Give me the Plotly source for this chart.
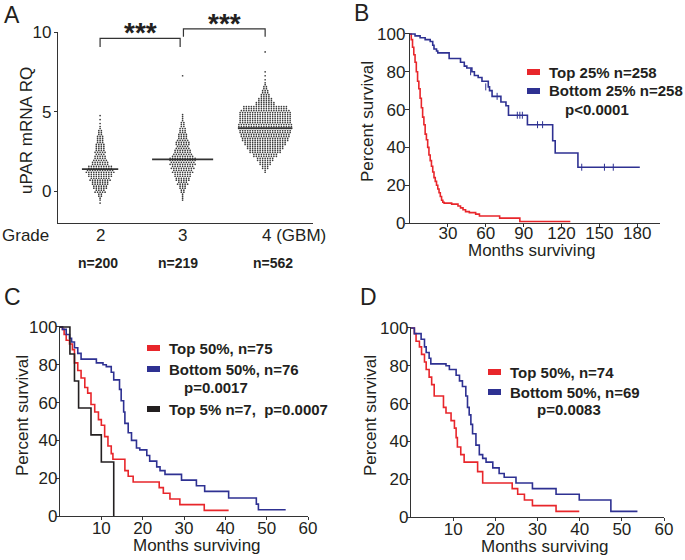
import plotly.graph_objects as go

W, H = 685, 560
FONT = 'Arial, "Liberation Sans", sans-serif'
INK = '#231f20'
RED = '#e8262b'
BLUE = '#2e3192'
BLACK = '#231f20'

# ---------------- Panel A: uPAR mRNA RQ by grade (binned values, 0.25 bins) ----------------
grade_labels = ['2', '3', '4 (GBM)']
grade_n = ['n=200', 'n=219', 'n=562']
grade_means = [1.38, 2.0, 3.96]

g2_values = [-0.75, -0.5, -0.25, 0, 0.25, 0.5, 0.75, 1.0, 1.25, 1.5, 1.75, 2.0, 2.25, 2.5,
             2.75, 3.0, 3.25, 3.5, 3.75, 4.0, 4.25, 4.5, 4.75]
g2_counts = [1, 2, 4, 9, 12, 14, 17, 20, 23, 20, 14, 11, 9, 9, 8, 7, 6, 5, 4, 2, 1, 1, 1]

g3_values = [-0.5, -0.25, 0, 0.25, 0.5, 0.75, 1.0, 1.25, 1.5, 1.75, 2.0, 2.25, 2.5, 2.75,
             3.0, 3.25, 3.5, 3.75, 4.0, 4.25, 4.5, 4.75, 7.25]
g3_counts = [2, 2, 4, 6, 9, 12, 14, 17, 19, 21, 22, 17, 14, 11, 12, 9, 8, 6, 5, 4, 2, 2, 1]

g4_values = [1.25, 1.5, 1.75, 2.0, 2.25, 2.5, 2.75, 3.0, 3.25, 3.5, 3.75, 4.0, 4.25, 4.5,
             4.75, 5.0, 5.25, 5.5, 5.75, 6.0, 6.25, 6.5, 6.75, 7.0, 7.25, 7.5, 8.75]
g4_counts = [2, 6, 10, 14, 20, 26, 30, 34, 38, 40, 42, 44, 43, 42, 42, 41, 36, 16, 12, 8, 6,
             4, 2, 1, 1, 1, 1]

# ---------------- Panel B: top vs bottom 25% ----------------
b_top_months = [0, 1, 2, 3, 4, 5, 6, 7, 8, 9, 10, 11, 12, 13, 14, 15, 16, 17, 18, 19, 20, 21,
                22, 23, 24, 25, 26, 27, 33, 38, 40, 42, 44, 47, 52, 55, 71, 87, 127]
b_top_surv = [100, 97, 93, 89, 85, 80, 75, 71, 66, 61, 56, 52, 47, 44, 40, 36, 33, 30, 27, 24,
              22, 20, 18, 16, 14, 12, 11, 10.5, 10, 9, 8, 7, 6, 5.5, 4.7, 3.7, 2.6, 0.8, 0.8]
b_bot_months = [0, 4, 8, 12, 16, 18, 19, 21, 22, 31, 40, 43, 45, 49, 51, 54, 57, 62, 63, 65,
                72, 76, 78, 93, 113, 115, 133, 182]
b_bot_surv = [100, 99, 98, 97, 96, 94, 92, 91, 90, 87, 85, 83, 82, 80, 78, 77, 75, 72, 70, 67,
              64, 62, 57, 52, 43.5, 37, 29.5, 29.5]
b_bot_cens_months = [48, 60, 69, 85, 87, 89, 101, 105, 136, 154, 161]
b_bot_cens_surv = [80, 72, 67, 57, 57, 57, 52, 52, 29.5, 29.5, 29.5]

# ---------------- Panel C ----------------
c_top_months = [0, 0.6, 1, 1.5, 2.3, 3, 3.5, 4.3, 5.1, 6, 6.7, 7.5, 8.4, 9.3, 10, 10.8, 11.6,
                12.4, 12.8, 15.7, 16.5, 17.7, 24, 25, 26.6, 29, 34.9, 40.8]
c_top_surv = [100, 98.7, 96, 93, 91, 88, 81, 77, 73, 68, 65, 59, 55, 51, 48, 42, 37, 33, 30,
              24, 21, 18, 15, 12, 9, 6, 3, 3]
c_bot_months = [0, 0.6, 1.5, 2.3, 2.8, 3.5, 4.3, 5.1, 8.8, 10.4, 11.2, 12.4, 13, 14.4, 14.8,
                15.4, 15.7, 16.5, 17.3, 18.5, 19.3, 21, 21.7, 23.4, 24.2, 25.4, 29.4, 33, 35,
                40.8, 47.5, 48, 54.6]
c_bot_surv = [100, 98.7, 96, 94, 92, 89, 86, 83, 81, 80, 79, 76, 72, 67, 61, 55, 49, 44, 40,
              36, 35, 32, 29, 26, 24, 22, 19, 16, 13, 9.5, 6.3, 3.3, 3.3]
c_top5_months = [0, 2.4, 3.5, 4.5, 7.5, 10, 13]
c_top5_surv = [100, 85.7, 71.4, 57.1, 42.9, 28.6, 0]

# ---------------- Panel D ----------------
d_top_months = [0, 0.8, 1.2, 2, 2.5, 3.2, 3.6, 4.3, 4.9, 5.5, 7.7, 8.3, 9.5, 10.3, 10.7, 11,
                11.8, 12.6, 15.8, 17, 24, 25.3, 26.9, 28.8, 34.4, 39.9]
d_top_surv = [100, 97, 93, 90, 86, 82, 78, 74, 70, 64, 58, 55, 51, 47, 42, 37, 33, 29, 24, 18,
              15, 12, 9, 6, 3, 3]
d_bot_months = [0, 0.8, 2.4, 3.2, 3.6, 4.3, 4.7, 8.3, 9.1, 10.7, 11.5, 12.2, 13, 13.4, 13.8,
                14.2, 14.6, 15.4, 16.2, 17, 17.8, 19.4, 20.9, 22.1, 24.9, 28.8, 34.4, 39.9,
                47.4, 53.7]
d_bot_surv = [100, 97, 94, 90, 87, 84, 81, 80, 78, 75, 72, 69, 64, 58, 54, 49, 44, 38, 33, 31,
              29, 26, 23, 21, 18, 15, 12, 9, 3, 3]


def px(x):
    return x / W


def py(y):
    return 1 - y / H


# panel plot boxes in screen pixels: left, top, right, bottom
BOX = {
    'A': (58, 32, 313, 223),
    'B': (410, 33, 660, 223),
    'C': (60, 326, 308, 516),
    'D': (411, 327, 664, 517),
}
A_XR = [0.49, 3.58]
A_YR = [-2, 10]


def a_paper(xv, yv):
    l, t, r, b = BOX['A']
    x = l + (xv - A_XR[0]) / (A_XR[1] - A_XR[0]) * (r - l)
    y = b - (yv - A_YR[0]) / (A_YR[1] - A_YR[0]) * (b - t)
    return px(x), py(y)


def swarm(center, values, counts, dx=0.0303, sub=0.0625):
    xs, ys = [], []
    for v, c in zip(values, counts):
        if c == 1:
            xs.append(center)
            ys.append(v)
            continue
        for yv, k in ((v - sub, (c + 1) // 2), (v + sub, c // 2)):
            for i in range(k):
                xs.append(center + (i - (k - 1) / 2) * dx)
                ys.append(yv)
    return xs, ys


fig = go.Figure()

groups = [(g2_values, g2_counts), (g3_values, g3_counts), (g4_values, g4_counts)]
mean_half = [0.22, 0.37, 0.33]
for i, (vals, cnts) in enumerate(groups):
    xs, ys = swarm(i + 1, vals, cnts)
    fig.add_trace(go.Scatter(x=xs, y=ys, mode='markers', xaxis='x', yaxis='y',
                             marker=dict(size=1.7, color='#3a3a3a', line=dict(width=0))))
for i, m in enumerate(grade_means):
    fig.add_trace(go.Scatter(x=[i + 1 - mean_half[i], i + 1 + mean_half[i]], y=[m, m],
                             mode='lines', xaxis='x', yaxis='y',
                             line=dict(color='#333333', width=1.8)))


def km(months, surv, color, xa, ya):
    fig.add_trace(go.Scatter(x=months, y=surv, mode='lines', xaxis=xa, yaxis=ya,
                             line=dict(color=color, width=1.6, shape='hv')))


km(b_top_months, b_top_surv, RED, 'x2', 'y2')
km(b_bot_months, b_bot_surv, BLUE, 'x2', 'y2')
fig.add_trace(go.Scatter(x=b_bot_cens_months, y=b_bot_cens_surv, mode='markers', xaxis='x2', yaxis='y2',
                         marker=dict(symbol='line-ns-open', size=5, color=BLUE,
                                     line=dict(color=BLUE, width=1))))
km(c_top_months, c_top_surv, RED, 'x3', 'y3')
km(c_bot_months, c_bot_surv, BLUE, 'x3', 'y3')
km(c_top5_months, c_top5_surv, BLACK, 'x3', 'y3')
km(d_top_months, d_top_surv, RED, 'x4', 'y4')
km(d_bot_months, d_bot_surv, BLUE, 'x4', 'y4')

tickfont = dict(family=FONT, size=17, color=INK)
axis_common = dict(showline=True, linecolor='#333333', linewidth=1.4, showgrid=False,
                   zeroline=False, tickfont=tickfont, ticks='outside', ticklen=3,
                   tickcolor='#333333', tickwidth=1.2, automargin=False)


def dom(k):
    l, t, r, b = BOX[k]
    return [px(l), px(r)], [py(b), py(t)]


layout_axes = {}
xa_d, ya_d = dom('A')
layout_axes['xaxis'] = dict(axis_common, domain=xa_d, range=A_XR, ticks='', showticklabels=False,
                            anchor='y')
layout_axes['yaxis'] = dict(axis_common, domain=ya_d, range=A_YR, tickvals=[0, 5, 10], anchor='x',
                            ticklabelstandoff=-1)

surv_ticks = [0, 20, 40, 60, 80, 100]
xa_d, ya_d = dom('B')
layout_axes['xaxis2'] = dict(axis_common, domain=xa_d, range=[0, 198], tickvals=[30, 60, 90, 120, 150, 180],
                             anchor='y2', ticklabelstandoff=-9)
layout_axes['yaxis2'] = dict(axis_common, domain=ya_d, range=[0, 100.5], tickvals=surv_ticks, anchor='x2',
                             ticklen=4, ticklabelstandoff=-4)
xa_d, ya_d = dom('C')
layout_axes['xaxis3'] = dict(axis_common, domain=xa_d, range=[0, 60], tickvals=[10, 20, 30, 40, 50, 60],
                             anchor='y3', ticklabelstandoff=-7)
layout_axes['yaxis3'] = dict(axis_common, domain=ya_d, range=[0, 100.5], tickvals=surv_ticks, anchor='x3',
                             ticklabelstandoff=-5)
xa_d, ya_d = dom('D')
layout_axes['xaxis4'] = dict(axis_common, domain=xa_d, range=[0, 60], tickvals=[10, 20, 30, 40, 50, 60],
                             anchor='y4', ticklabelstandoff=-7)
layout_axes['yaxis4'] = dict(axis_common, domain=ya_d, range=[0, 100.5], tickvals=surv_ticks, anchor='x4',
                             ticklabelstandoff=-5)

ann = []


def text(x, y, s, size=17, bold=False, xanchor='center', yanchor='middle', angle=0, xref='paper', color=INK):
    ann.append(dict(x=x, y=y, xref=xref, yref='paper', text='<b>%s</b>' % s if bold else s,
                    showarrow=False, xanchor=xanchor, yanchor=yanchor, textangle=angle,
                    font=dict(family=FONT, size=size, color=color)))


# panel letters
text(px(2), py(15), 'A', size=23, xanchor='left')
text(px(352), py(13), 'B', size=23, xanchor='left')
text(px(2), py(297), 'C', size=23, xanchor='left')
text(px(358), py(297), 'D', size=23, xanchor='left')

# panel A labels
text(px(26), py(131), 'uPAR mRNA RQ', angle=-90)
text(px(51), py(235), 'Grade', xanchor='right')
for i, lab in enumerate(grade_labels):
    if i < 2:
        text(i + 1, py(235), lab, xref='x')
    else:
        ann.append(dict(x=i + 1, y=py(235), xref='x', yref='paper', text=lab.replace(' ', '\u00a0'),
                        showarrow=False, xanchor='left', xshift=-5, yanchor='middle',
                        font=dict(family=FONT, size=17, color=INK)))
n_x = [0.97, 1.94, 3.1]
for i, lab in enumerate(grade_n):
    text(n_x[i], py(263), lab, size=14, bold=True, xref='x')

shapes = []
# significance brackets
for (x0, x1, top, foot) in [(1, 1.97, 9.6, 9.05), (2.01, 3, 10.2, 9.7)]:
    p0 = a_paper(x0, foot)
    p1 = a_paper(x0, top)
    p2 = a_paper(x1, top)
    p3 = a_paper(x1, foot)
    shapes.append(dict(type='path', xref='paper', yref='paper',
                       path='M %f %f L %f %f L %f %f L %f %f' % (p0 + p1 + p2 + p3),
                       line=dict(color='#333333', width=1.2)))
    sx, sy = a_paper((x0 + x1) / 2, top)
    ann.append(dict(x=sx, y=sy, xref='paper', yref='paper', text='<b>***</b>', showarrow=False,
                    xanchor='center', yanchor='bottom', yshift=-12,
                    font=dict(family=FONT, size=28, color=INK)))

# KM axis titles
for k, (tx, ty) in {'B': (367, 122), 'C': (22, 416), 'D': (370, 416)}.items():
    text(px(tx), py(ty), 'Percent survival', angle=-90)
for (tx, ty) in [(532, 251), (197, 545), (545, 546)]:
    text(px(tx), py(ty), 'Months surviving')


def legend_item(x, y, color, label):
    shapes.append(dict(type='rect', xref='paper', yref='paper', x0=px(x), x1=px(x + 13),
                       y0=py(y + 3), y1=py(y - 3), fillcolor=color, line=dict(width=0)))
    text(px(x + 20), py(y), label, size=15, bold=True, xanchor='left')


legend_item(527, 72, RED, 'Top 25% n=258')
legend_item(527, 91, BLUE, 'Bottom 25% n=258')
text(px(597), py(110), 'p<0.0001', size=15, bold=True)

legend_item(147, 348, RED, 'Top 50%, n=75')
legend_item(147, 369, BLUE, 'Bottom 50%, n=76')
text(px(182), py(387), 'p=0.0017', size=15, bold=True, xanchor='left')
legend_item(147, 409, BLACK, 'Top 5% n=7,\u00a0\u00a0p=0.0007')

legend_item(488, 372, RED, 'Top 50%, n=74')
legend_item(488, 392, BLUE, 'Bottom 50%, n=69')
text(px(535), py(409), 'p=0.0083', size=15, bold=True, xanchor='left')

fig.update_layout(
    width=W, height=H,
    margin=dict(l=0, r=0, t=0, b=0, autoexpand=False),
    paper_bgcolor='white', plot_bgcolor='white',
    showlegend=False,
    font=dict(family=FONT, size=17, color=INK),
    annotations=ann, shapes=shapes,
    **layout_axes
)

# drop the page's default body margin so the figure sits at the window's top-left corner
fig.write_html('out.html', config={'displayModeBar': False},
               post_script="document.body.style.margin='0px';")
